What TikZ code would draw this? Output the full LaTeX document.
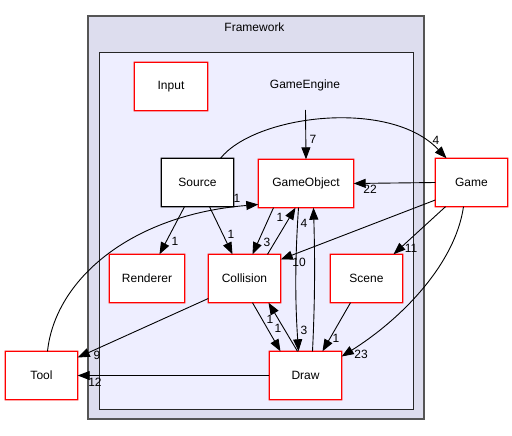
\documentclass[tikz,border=0pt]{standalone}
\usepackage{fontspec}
\setmainfont{Liberation Sans}
\usetikzlibrary{arrows.meta}
\definecolor{outerfill}{HTML}{DDDDEE}
\definecolor{innerfill}{HTML}{EEEEFF}
\definecolor{outerline}{HTML}{555555}
\definecolor{boxred}{HTML}{FF0000}
\begin{document}
\begin{tikzpicture}[x=1pt,y=-1pt,
  font=\fontsize{12}{14}\selectfont,
  box/.style={fill=white,minimum width=72pt,minimum height=48pt,inner sep=0pt},
  edge/.style={draw=black,line width=0.9pt,-{Triangle[length=12pt,width=9pt]}},
  lbl/.style={inner sep=0pt}]
\useasboundingbox (0,0) rectangle (512,436);
% clusters
\draw[fill=outerfill,draw=outerline,line width=2pt] (88,16) rectangle (424,419);
\node (fw) at (254.5,27) {Framework};
\draw[fill=innerfill,draw=black!85,line width=1pt] (99.5,52.5) rectangle (413.5,409.5);
\node (ge) at (305,85) {GameEngine};
\coordinate (gestart) at (305.5,110);
% nodes
\node[box,minimum width=73pt] (nInput) at (171,86.5) {Input};
\node[box] (nSource) at (197.5,182.5) {Source};
\node[box,minimum width=95pt] (nGameObject) at (306,183.5) {GameObject};
\node[box] (nGame) at (471.5,182.5) {Game};
\node[box,minimum width=75pt] (nRenderer) at (147,278.5) {Renderer};
\node[box] (nCollision) at (244.5,278.5) {Collision};
\node[box] (nScene) at (366.5,278.5) {Scene};
\node[box] (nTool) at (41.5,375.5) {Tool};
\node[box] (nDraw) at (305.5,375.5) {Draw};
% frames as filled rings
\foreach \n/\c in {nInput/boxred,nSource/black,nGameObject/boxred,nGame/boxred,nRenderer/boxred,nCollision/boxred,nScene/boxred,nTool/boxred,nDraw/boxred}
  \fill[\c,even odd rule]
    ([xshift=-0.65pt,yshift=-0.65pt]\n.south west) rectangle ([xshift=0.65pt,yshift=0.65pt]\n.north east)
    ([xshift=0.65pt,yshift=0.65pt]\n.south west) rectangle ([xshift=-0.65pt,yshift=-0.65pt]\n.north east);
% edges
\draw[edge] (gestart) -- (nGameObject.north);
\node[lbl] (l1) at (313,139) {7};
\draw[edge] ([xshift=23pt]nSource.north) .. controls (255,115) and (390,98) .. ([xshift=-25pt]nGame.north);
\node[lbl] (l2) at (436,140) {4};
\draw[edge] (nGame.west) -- (nGameObject.east);
\node[lbl] (l3) at (370,189) {22};
\draw[edge] ([xshift=6pt]nTool.north) .. controls (55,280) and (130,215) .. ([yshift=-21pt]nGameObject.west);
\node[lbl] (l4) at (237,198) {1};
\draw[edge] ([xshift=-13pt]nSource.south) -- ([xshift=12.5pt]nRenderer.north);
\node[lbl] (l5) at (175,241) {1};
\draw[edge] ([xshift=12pt]nSource.south) -- ([xshift=-12pt]nCollision.north);
\node[lbl] (l6) at (231,234) {1};
\draw[edge] ([xshift=-32.5pt]nGameObject.south) -- ([xshift=8pt]nCollision.north);
\node[lbl] (l7) at (267,242) {3};
\draw[edge] ([xshift=23pt]nCollision.north) -- ([xshift=-10.5pt]nGameObject.south);
\node[lbl] (l8) at (280,217) {1};
\draw[edge] ([xshift=-7.5pt]nGameObject.south) .. controls (295,260) and (295,300) .. ([xshift=-7pt]nDraw.north);
\node[lbl] (l9) at (304,330) {3};
\draw[edge] ([xshift=7pt]nDraw.north) .. controls (315,300) and (315,260) .. ([xshift=7.5pt]nGameObject.south);
\node[lbl] (l10) at (304,223) {4};
\draw[edge] ([yshift=-17.5pt]nGame.west) -- ([yshift=19pt]nCollision.east);
\node[lbl] (l11) at (299,262) {10};
\draw[edge] ([xshift=-26pt]nGame.south) -- ([xshift=27pt]nScene.north);
\node[lbl] (l12) at (411,248) {11};
\draw[edge] ([xshift=-8pt]nGame.south) .. controls (455,265) and (400,320) .. ([yshift=19pt]nDraw.east);
\node[lbl] (l13) at (361,354) {23};
\draw[edge] ([xshift=8pt]nCollision.south) -- ([xshift=-25pt]nDraw.north);
\node[lbl] (l14) at (278,328) {1};
\draw[edge] ([xshift=-8pt]nDraw.north) -- ([xshift=24pt]nCollision.south);
\node[lbl] (l15) at (270,319) {1};
\draw[edge] ([xshift=-16pt]nScene.south) -- ([xshift=17pt]nDraw.north);
\node[lbl] (l16) at (336,338) {1};
\draw[edge] ([yshift=-20pt]nCollision.west) -- ([yshift=18pt]nTool.east);
\node[lbl] (l17) at (97,355) {9};
\draw[edge] (nDraw.west) -- (nTool.east);
\node[lbl] (l18) at (95,382) {12};
\end{tikzpicture}
\end{document}
